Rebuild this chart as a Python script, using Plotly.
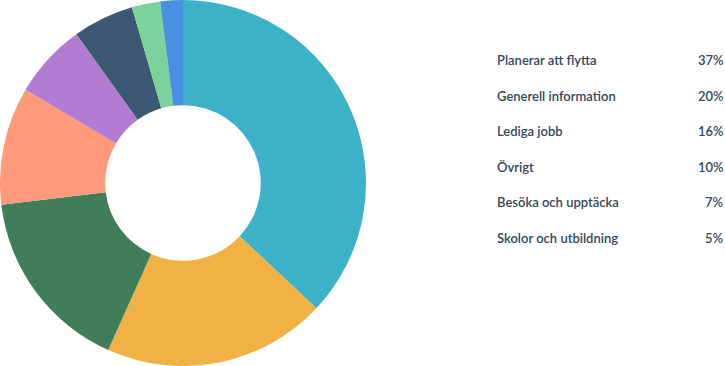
import plotly.graph_objects as go

categories = ["Planerar att flytta", "Generell information", "Lediga jobb", "Övrigt",
              "Besöka och upptäcka", "Skolor och utbildning", "Kategori 7", "Kategori 8"]
values = [37.0, 19.7, 16.4, 10.4, 6.6, 5.4, 2.5, 2.0]
colors = ["#3db1c8", "#f2b143", "#407e59", "#fe9a7a", "#b47bd3", "#3d5873", "#7bd39b", "#4a90e0"]
legend_count = 6

W, H = 725, 366

fig = go.Figure(go.Pie(
    labels=categories,
    values=values,
    hole=0.425,
    sort=False,
    direction="clockwise",
    rotation=0,
    marker=dict(colors=colors, line=dict(width=0)),
    textinfo="none",
    hoverinfo="label+percent",
    domain=dict(x=[0, 366 / W], y=[0, 1]),
    showlegend=False,
))

total = sum(values)
y0, dy = 60, 35.5
for i in range(legend_count):
    ypx = y0 + i * dy
    yp = 1 - ypx / H
    fig.add_annotation(x=496 / W, y=yp, xref="paper", yref="paper", text=categories[i],
                       xanchor="left", yanchor="middle", showarrow=False, borderpad=0,
                       font=dict(family="Lato", size=13, color="#33475b", weight=600))
    fig.add_annotation(x=725 / W, y=yp, xref="paper", yref="paper",
                       text=f"{round(values[i] / total * 100)}%",
                       xanchor="right", yanchor="middle", showarrow=False, borderpad=0,
                       font=dict(family="Lato", size=13, color="#33475b", weight=600))

fig.update_layout(width=W, height=H, margin=dict(l=0, r=0, t=0, b=0),
                  paper_bgcolor="white", plot_bgcolor="white")
fig.write_html("out.html", config={"displayModeBar": False},
               post_script="document.body.style.margin='0';document.body.style.overflow='hidden';")
